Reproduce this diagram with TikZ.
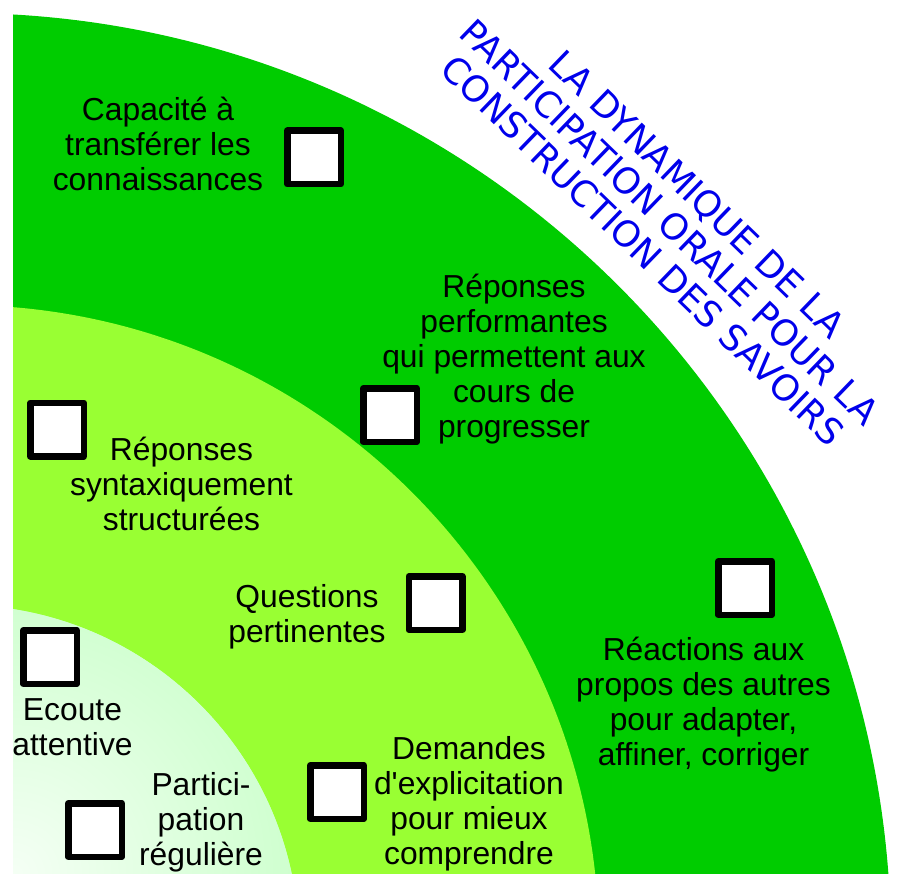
\documentclass[tikz,border=0pt]{standalone}
\usepackage{fontspec}
\newfontfamily\lblfont{Liberation Sans}
\newfontfamily\titlefont{DejaVu Sans}
\usepackage{tikz}
\usetikzlibrary{positioning}

\definecolor{darkgreen}{RGB}{0,204,0}
\definecolor{lightgreen}{RGB}{153,255,51}
\definecolor{palegreen}{RGB}{204,255,204}
\definecolor{titleblue}{RGB}{0,0,235}

\begin{document}
\begin{tikzpicture}[x=1pt,y=-1pt,
	box/.style={draw, rectangle, fill=white, line width=6.5pt, line join=round, minimum size=53.5pt, inner sep=0pt},
	lbl/.style={align=center, anchor=base, inner sep=0pt, font=\lblfont\fontsize{31.8}{35}\selectfont}]
			\useasboundingbox (0,0) rectangle (902,874);
			
			\begin{scope}
			\clip (13,0) rectangle (902,874);
			\fill[darkgreen] (-40,944) circle (931pt);
			\fill[lightgreen] (-40,944) circle (639pt);
			\fill[palegreen] (-40,944) circle (339pt);
			\begin{scope}
			\clip (-40,944) circle (339pt);
			\shade[inner color=palegreen!20!white, outer color=palegreen] (13,874) circle (300pt);
			\end{scope}
			\end{scope}
			
			\node[font=\titlefont\fontsize{36}{39}\selectfont, text=titleblue, align=center, rotate=-44, inner sep=0pt] (title) at (670,222) {LA DYNAMIQUE DE LA\\PARTICIPATION ORALE POUR LA\\CONSTRUCTION DES SAVOIRS};
			
			\node[box] (a) at (314,157.5) {};
			\node[box] (b) at (390,415) {};
			\node[box] (c) at (57,429.5) {};
			\node[box] (d) at (435.5,603) {};
			\node[box] (e) at (745,588) {};
			\node[box] (f) at (337,792) {};
			\node[box] (g) at (50,657) {};
			\node[box] (h) at (95,830) {};
			
			\node[lbl] (ta) at (158,191) {Capacité à\\transférer les\\connaissances};
			\node[lbl] (tb) at (514,437) {Réponses\\performantes\\qui permettent aux\\cours de\\progresser};
			\node[lbl] (tc) at (181.5,530) {Réponses\\syntaxiquement\\structurées};
			\node[lbl] (td) at (307,642) {Questions\\pertinentes};
			\node[lbl] (te) at (703.5,765) {Réactions aux\\propos des autres\\pour adapter,\\affiner, corriger};
			\node[lbl] (tf) at (469,864) {Demandes\\d'explicitation\\pour mieux\\comprendre};
			\node[lbl] (tg) at (72.5,755) {Ecoute\\attentive};
			\node[lbl] (th) at (201,865) {Partici-\\pation\\régulière};
			
\end{tikzpicture}
\end{document}
